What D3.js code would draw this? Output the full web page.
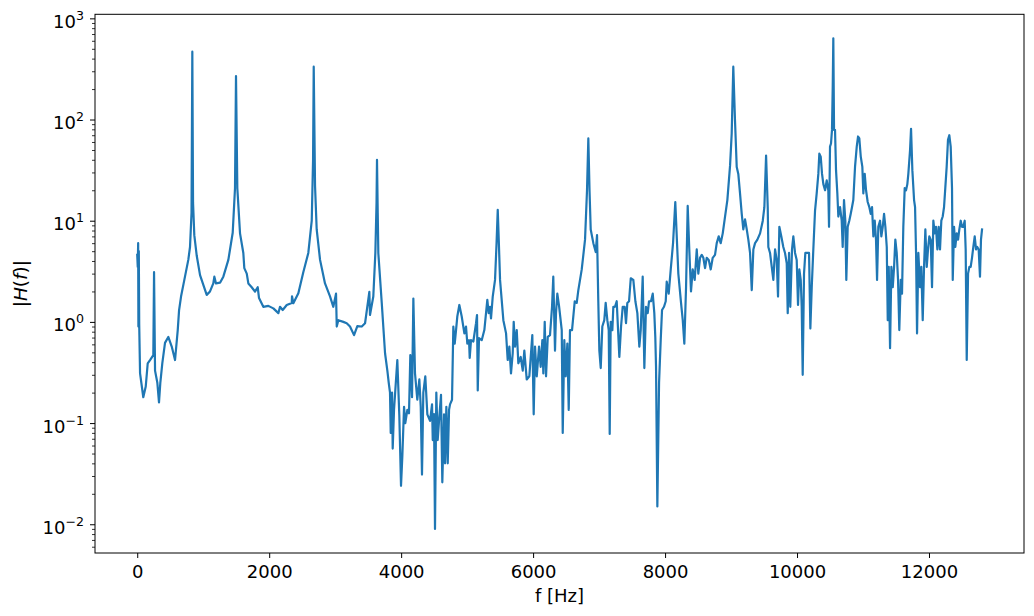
<!DOCTYPE html>
<html><head><meta charset="utf-8">
<script src="https://cdn.jsdelivr.net/npm/d3@7"></script>
<style>
html,body{margin:0;padding:0;background:#fff;}
text{font-family:"DejaVu Sans",sans-serif;fill:#000;}
</style></head>
<body>
<svg id="chart" width="1034" height="616"></svg>
<script>
// frequency [Hz], |H(f)|
const response = [
[0,4.6],[8,3.5],[14,6.0],[18,0.9],[24,5.0],[30,0.95],[43,0.31],[92,0.18],[129,0.23],[159,0.39],[194,0.42],[244,0.47],[255,3.1],[270,0.33],[305,0.25],[330,0.16],[350,0.25],[380,0.39],[421,0.62],[471,0.71],[523,0.57],[573,0.42],[614,0.83],[634,1.3],[664,1.78],[714,2.6],[774,4.1],[800,5.5],[823,12],[835,468],[846,15],[865,7.2],[902,4.5],[952,2.9],[1053,1.85],[1103,2.0],[1153,2.4],[1169,2.8],[1194,2.4],[1255,2.44],[1305,2.8],[1381,4.1],[1447,7.6],[1482,21],[1497,269],[1517,21],[1558,7.5],[1608,4.8],[1623,3.4],[1660,3.0],[1684,2.4],[1735,2.2],[1785,1.99],[1826,2.2],[1846,1.72],[1911,1.41],[1987,1.44],[2063,1.36],[2139,1.22],[2164,1.41],[2205,1.31],[2266,1.47],[2342,1.54],[2346,1.79],[2366,1.53],[2442,1.92],[2517,3.1],[2593,4.8],[2645,10],[2665,40],[2675,333],[2695,22],[2720,8.2],[2771,4.1],[2846,2.4],[2922,1.79],[2972,1.41],[3013,1.9],[3024,0.9],[3048,1.04],[3124,1.0],[3175,0.97],[3225,0.9],[3286,0.74],[3336,0.91],[3403,0.9],[3453,0.97],[3518,1.98],[3528,1.17],[3578,1.78],[3609,4.8],[3627,15],[3634,40],[3645,12],[3654,4.8],[3706,1.54],[3756,0.49],[3791,0.33],[3812,0.25],[3831,0.2],[3842,0.08],[3862,0.2],[3872,0.056],[3892,0.135],[3942,0.42],[3972,0.12],[3998,0.024],[4018,0.047],[4044,0.145],[4063,0.1],[4094,0.135],[4119,0.125],[4139,0.47],[4165,0.18],[4185,1.7],[4210,0.31],[4245,0.17],[4276,0.27],[4297,0.145],[4316,0.031],[4336,0.2],[4366,0.29],[4397,0.122],[4438,0.105],[4468,0.153],[4479,0.068],[4498,0.123],[4513,0.009],[4533,0.2],[4554,0.068],[4574,0.105],[4604,0.19],[4624,0.026],[4650,0.122],[4665,0.04],[4685,0.145],[4706,0.04],[4726,0.135],[4741,0.153],[4771,0.17],[4791,0.9],[4812,0.61],[4832,0.83],[4851,1.13],[4882,1.47],[4918,1.13],[4958,0.77],[4983,0.9],[5003,0.61],[5029,0.66],[5039,0.44],[5059,0.66],[5094,0.64],[5135,0.97],[5150,1.17],[5161,0.21],[5180,0.69],[5221,0.66],[5261,0.83],[5306,1.65],[5327,1.22],[5347,1.41],[5362,1.08],[5388,1.78],[5423,2.6],[5446,6],[5464,12.8],[5483,5.5],[5499,2.6],[5549,1.04],[5590,0.77],[5615,0.42],[5640,0.57],[5665,0.31],[5691,0.49],[5706,1.0],[5726,0.57],[5752,0.83],[5776,0.39],[5812,0.45],[5843,0.33],[5867,0.52],[5903,0.27],[5943,0.29],[5988,0.74],[6009,0.122],[6029,0.57],[6055,0.29],[6090,0.57],[6115,0.36],[6140,0.66],[6155,0.31],[6176,1.0],[6196,0.29],[6222,0.71],[6256,0.74],[6287,1.41],[6306,2.8],[6332,0.52],[6347,1.22],[6367,1.9],[6393,1.44],[6434,0.83],[6449,0.08],[6473,0.66],[6494,0.29],[6519,0.61],[6540,0.135],[6559,0.83],[6590,0.83],[6631,1.6],[6661,1.54],[6685,2.05],[6737,3.3],[6787,6.5],[6817,20],[6837,65],[6855,20],[6873,8.2],[6913,6.0],[6949,4.9],[6969,7.2],[6988,1.6],[7004,0.52],[7025,0.35],[7049,0.9],[7079,1.04],[7100,1.54],[7125,1.04],[7146,0.83],[7161,0.078],[7176,1.0],[7201,0.83],[7216,1.41],[7241,1.41],[7267,1.6],[7307,0.45],[7333,0.9],[7358,1.41],[7388,1.41],[7408,0.97],[7428,1.54],[7454,1.6],[7480,2.7],[7519,2.6],[7550,1.6],[7580,1.22],[7610,0.57],[7631,0.83],[7661,2.8],[7686,0.35],[7711,1.41],[7737,1.22],[7757,1.6],[7787,1.6],[7813,1.9],[7837,1.22],[7852,0.71],[7863,0.36],[7883,0.015],[7909,0.25],[7934,0.66],[7954,1.31],[7984,1.41],[8010,1.6],[8025,2.5],[8055,1.9],[8086,3.3],[8121,6],[8155,15.3],[8201,3.0],[8242,1.54],[8268,1.04],[8292,0.61],[8318,2.2],[8343,14],[8367,5.2],[8393,2.0],[8419,3.3],[8449,2.6],[8480,5.2],[8504,3.0],[8530,4.3],[8556,4.6],[8580,4.3],[8606,3.4],[8631,4.3],[8662,4.1],[8692,3.3],[8722,4.3],[8757,4.6],[8783,6.0],[8813,7.0],[8843,6.0],[8874,7.5],[8909,11],[8944,16],[8985,35],[9010,73],[9034,333],[9060,98],[9086,34],[9110,29],[9136,18.6],[9162,11.7],[9186,8.2],[9212,10.3],[9238,8.2],[9262,6.5],[9288,4.8],[9314,2.06],[9338,5.2],[9364,6.0],[9399,6.5],[9440,7.5],[9481,10],[9505,13.6],[9531,44],[9556,13.6],[9565,5.5],[9591,4.8],[9617,3.5],[9641,2.6],[9667,5.2],[9692,4.1],[9712,1.78],[9732,8.7],[9762,7.0],[9792,5.5],[9818,4.8],[9844,3.8],[9859,1.22],[9879,4.8],[9898,1.41],[9924,5.2],[9944,7.0],[9970,4.8],[9995,4.1],[10015,1.47],[10035,3.3],[10056,2.6],[10071,1.41],[10086,0.30],[10106,3.0],[10126,4.8],[10156,4.8],[10182,4.8],[10202,0.86],[10223,2.2],[10247,5.2],[10273,12.6],[10298,18.6],[10323,29],[10338,46],[10359,43],[10379,29],[10399,23],[10425,20],[10450,25],[10474,20],[10485,8.7],[10500,54],[10515,58],[10530,79],[10541,210],[10550,635],[10561,79],[10576,79],[10591,31.6],[10611,18.6],[10626,11],[10652,13.6],[10677,10],[10692,5.5],[10712,16],[10732,10],[10747,2.6],[10768,8.7],[10792,10],[10814,11.7],[10833,13.6],[10853,16],[10879,34],[10905,54],[10925,68],[10944,65],[10966,43],[10990,34],[11005,18.6],[11026,29],[11046,20],[11071,15.3],[11096,13.6],[11117,11.7],[11137,13.6],[11157,7.0],[11178,10],[11197,6.5],[11213,2.6],[11232,8.7],[11258,10],[11278,7.0],[11299,8.7],[11319,11.7],[11339,8.7],[11360,5.5],[11375,1.04],[11390,3.5],[11410,0.55],[11430,3.5],[11451,2.2],[11471,3.5],[11490,6.5],[11511,4.8],[11531,2.6],[11550,0.83],[11572,2.6],[11591,1.9],[11611,8.7],[11632,21],[11652,20],[11672,23],[11687,29],[11713,50],[11728,81],[11748,31.6],[11774,16],[11789,13.6],[11804,4.8],[11819,0.77],[11839,4.8],[11864,2.2],[11884,3.5],[11905,1.04],[11925,3.5],[11945,8.2],[11966,3.5],[11985,5.2],[12005,7.0],[12026,6.5],[12046,2.2],[12066,10],[12087,7.5],[12106,8.7],[12127,5.2],[12147,8.7],[12167,5.2],[12187,10],[12208,11],[12228,13.6],[12247,21],[12268,34],[12288,63],[12308,70],[12329,54],[12349,21],[12360,2.6],[12380,8.7],[12399,5.5],[12420,7.5],[12441,6.5],[12460,8.2],[12481,10],[12501,8.7],[12521,8.7],[12541,10],[12556,5.2],[12572,0.42],[12592,3.0],[12612,3.5],[12632,3.5],[12652,4.3],[12672,5.5],[12693,7.0],[12713,5.2],[12732,5.5],[12753,5.2],[12773,2.8],[12788,6.5],[12804,8.2]
];
const xTicks = [0, 2000, 4000, 6000, 8000, 10000, 12000];
const yTicks = [0.01, 0.1, 1, 10, 100, 1000];
const xLabel = "f [Hz]";

const L = 95, R = 1024, T = 14.3, B = 553;
const svg = d3.select("#chart");

const x = d3.scaleLinear().domain([-640, 13440]).range([L, R]);
const y = d3.scaleLog().domain([Math.pow(10, -2.284), Math.pow(10, 3.04)]).range([B, T]);

// line
const line = d3.line().x(d => x(d[0])).y(d => y(d[1]));
svg.append("path").datum(response)
  .attr("d", line).attr("fill", "none")
  .attr("stroke", "#1f77b4").attr("stroke-width", 2.2)
  .attr("stroke-linejoin", "round").attr("stroke-linecap", "square");

// x axis
const gx = svg.append("g").attr("transform", `translate(0,${B})`)
  .call(d3.axisBottom(x).tickValues(xTicks).tickSize(5).tickPadding(7).tickFormat(d3.format("d")));
gx.select(".domain").remove();
gx.selectAll("text").attr("font-size", 18).attr("font-family", "DejaVu Sans").attr("fill", "#000");
gx.selectAll("line").attr("stroke", "#000").attr("stroke-width", 1);

// y axis major
const gy = svg.append("g").attr("transform", `translate(${L},0)`)
  .call(d3.axisLeft(y).tickValues(yTicks).tickSize(5).tickFormat(() => ""));
gy.select(".domain").remove();
gy.selectAll("line").attr("stroke", "#000").attr("stroke-width", 1);
gy.selectAll(".tick").each(function(d) {
  const e = Math.round(Math.log10(d));
  const t = d3.select(this).append("text")
    .attr("x", -11).attr("y", 9).attr("text-anchor", "end")
    .attr("font-size", 18).attr("fill", "#000").attr("dy", null);
  t.append("tspan").text("10");
  t.append("tspan").attr("dy", -8).attr("font-size", 12.6).text(e < 0 ? "\u2212" + Math.abs(e) : String(e));
});

// y minor ticks
const dom = y.domain();
const minor = [];
for (let k = -3; k <= 3; k++) for (let m = 2; m <= 9; m++) {
  const v = m * Math.pow(10, k);
  if (v >= dom[0] && v <= dom[1]) minor.push(v);
}
const gm = svg.append("g").attr("transform", `translate(${L},0)`)
  .call(d3.axisLeft(y).tickValues(minor).tickSize(3).tickFormat(() => ""));
gm.select(".domain").remove();
gm.selectAll("line").attr("stroke", "#000").attr("stroke-width", 0.8);

// frame
svg.append("rect").attr("x", L).attr("y", T).attr("width", R - L).attr("height", B - T)
  .attr("fill", "none").attr("stroke", "#000").attr("stroke-width", 1);

// labels
svg.append("text").attr("x", (L + R) / 2).attr("y", 602).attr("text-anchor", "middle")
  .attr("font-size", 18).text(xLabel);
const yl = svg.append("text").attr("transform", `translate(27,${(T + B) / 2}) rotate(-90)`)
  .attr("text-anchor", "middle").attr("font-size", 18.5);
yl.append("tspan").text("|");
yl.append("tspan").attr("font-style", "italic").text("H");
yl.append("tspan").text("(");
yl.append("tspan").attr("font-style", "italic").text("f");
yl.append("tspan").text(")|");
</script>
</body></html>
